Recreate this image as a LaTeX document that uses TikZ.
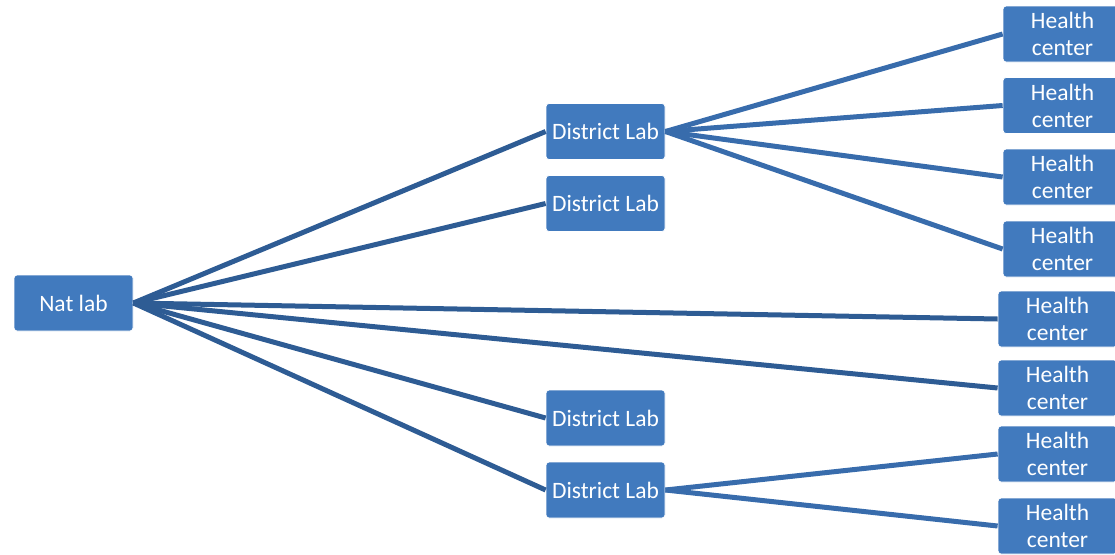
\documentclass[tikz,border=0pt]{standalone}
\usepackage{fontspec}
\setmainfont{Carlito}
\usetikzlibrary{positioning}
\definecolor{boxblue}{RGB}{65,122,190}
\definecolor{navline}{RGB}{46,92,148}
\definecolor{subline}{RGB}{56,108,172}
\tikzset{
  lab node/.style={rectangle,rounded corners=3pt,fill=boxblue,draw=white,line width=0.8pt,
    text=white,minimum width=119pt,minimum height=56pt,inner sep=2pt,align=center,
    font=\fontsize{23.5}{27}\selectfont},
  main link/.style={navline,line width=5pt},
  sub link/.style={subline,line width=5pt},
}

\begin{document}
\begin{tikzpicture}[x=1pt,y=-1pt]
  \useasboundingbox (0,0) rectangle (1115,554);
  \clip (0,0) rectangle (1115,554);
  % national level
  \node[lab node] (nat) at (73.5,303) {Nat lab};
  % district level
  \node[lab node] (d1) at (605.5,131.5) {District Lab};
  \node[lab node] (d2) at (605.5,203.5) {District Lab};
  \node[lab node] (d3) at (605.5,418) {District Lab};
  \node[lab node] (d4) at (605.5,490) {District Lab};
  % health centers
  \node[lab node] (h1) at (1062.5,34) {Health\\center};
  \node[lab node] (h2) at (1062.5,105.5) {Health\\center};
  \node[lab node] (h3) at (1062.5,177) {Health\\center};
  \node[lab node] (h4) at (1062.5,249) {Health\\center};
  \node[lab node] (h5) at (1057.5,319) {Health\\center};
  \node[lab node] (h6) at (1057.5,388) {Health\\center};
  \node[lab node] (h7) at (1057.5,454) {Health\\center};
  \node[lab node] (h8) at (1057.5,526) {Health\\center};
  \foreach \t in {d1,d2,d3,d4,h5,h6}
    \draw[main link] (nat.east) -- (\t.west);
  \foreach \t in {h1,h2,h3,h4}
    \draw[sub link] (d1.east) -- (\t.west);
  \foreach \t in {h7,h8}
    \draw[sub link] (d4.east) -- (\t.west);
\end{tikzpicture}
\end{document}
